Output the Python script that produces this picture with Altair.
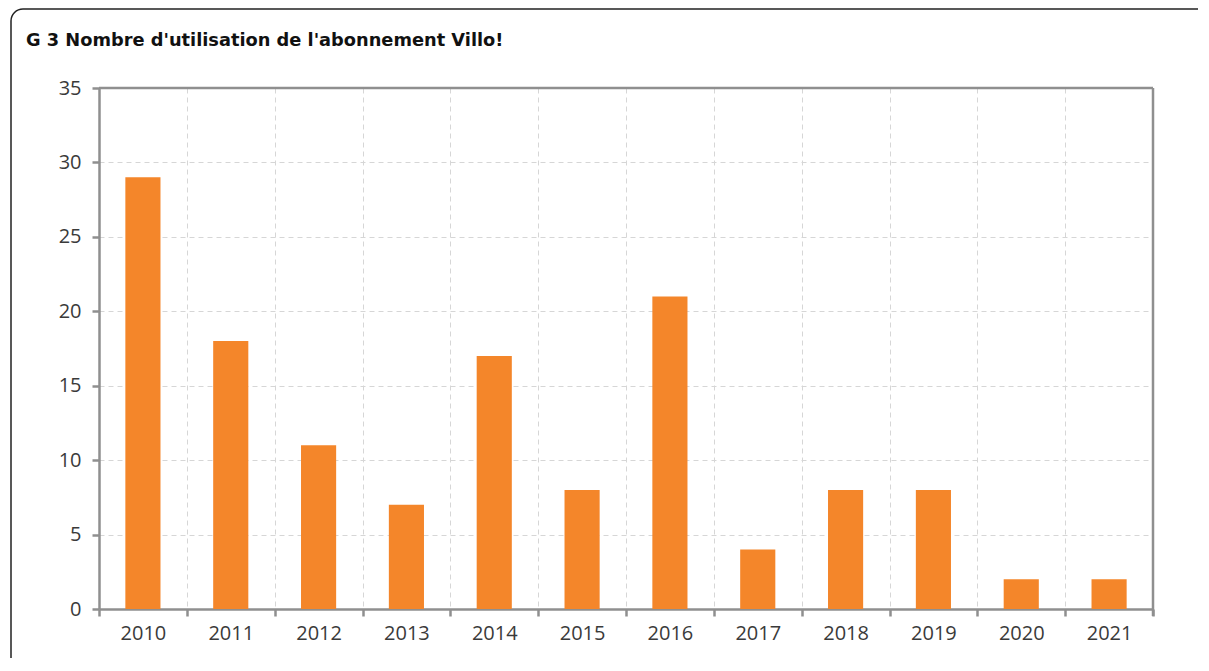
import altair as alt
import pandas as pd

years = ["2010", "2011", "2012", "2013", "2014", "2015",
         "2016", "2017", "2018", "2019", "2020", "2021"]
values = [29, 18, 11, 7, 17, 8, 21, 4, 8, 8, 2, 2]
y_ticks = [0, 5, 10, 15, 20, 25, 30, 35]
title_text = "G 3 Nombre d'utilisation de l'abonnement Villo!"

df = pd.DataFrame({"year": years, "value": values})

W, H = 1054, 521
AXIS_GRAY = "#8f8f8f"
GRID_GRAY = "#d6d6d6"
LABEL_COLOR = "#3a3a3a"
LABEL_FONT = "Open Sans"

bars = alt.Chart(df).mark_bar(
    color="#F4862A", width=alt.RelativeBandSize(0.4)
).encode(
    x=alt.X(
        "year:N", sort=years, title=None,
        scale=alt.Scale(paddingInner=0, paddingOuter=0),
        axis=alt.Axis(
            labelAngle=0, tickBand="extent", grid=True,
            gridDash=[5, 4], gridColor=GRID_GRAY, gridWidth=1,
            domainColor=AXIS_GRAY, domainWidth=2.5,
            tickColor=AXIS_GRAY, tickWidth=2.5, tickSize=7,
            labelPadding=7, labelFont=LABEL_FONT, labelFontSize=20,
            labelColor=LABEL_COLOR,
        ),
    ),
    y=alt.Y(
        "value:Q", title=None,
        scale=alt.Scale(domain=[0, 35], nice=False),
        axis=alt.Axis(
            values=y_ticks, grid=True,
            gridDash=[5, 4], gridColor=GRID_GRAY, gridWidth=1,
            domainColor=AXIS_GRAY, domainWidth=2.5,
            tickColor=AXIS_GRAY, tickWidth=2.5, tickSize=7,
            labelPadding=11, labelFont=LABEL_FONT, labelFontSize=20,
            labelColor=LABEL_COLOR,
        ),
    ),
)

# solid top and right borders of the plot area, drawn over the grid
top_border = alt.Chart(alt.Data(values=[{}])).mark_rule(
    color=AXIS_GRAY, strokeWidth=2.5
).encode(x=alt.value(0), x2=alt.value(W), y=alt.value(0))

right_border = alt.Chart(alt.Data(values=[{}])).mark_rule(
    color=AXIS_GRAY, strokeWidth=2.5
).encode(x=alt.value(W), y=alt.value(0), y2=alt.value(H + 7))

frame = alt.Chart(alt.Data(values=[{}])).mark_rect(
    filled=False, stroke="#222222", strokeWidth=1.5, cornerRadiusTopLeft=12
).encode(
    x=alt.value(-88), x2=alt.value(1300), y=alt.value(-79), y2=alt.value(700)
)

title = alt.Chart(alt.Data(values=[{}])).mark_text(
    text=title_text, align="left", baseline="middle",
    font="DejaVu Sans", fontWeight="bold", fontSize=17.8, color="#111111"
).encode(x=alt.value(-73), y=alt.value(-47))

chart = alt.layer(frame, bars, top_border, right_border, title).properties(
    width=W, height=H,
    padding={"left": 91, "top": 80, "right": 45, "bottom": 49},
    autosize=alt.AutoSizeParams(type="none"),
).configure_view(stroke=None)

chart.save("out.html", embed_options={"renderer": "svg", "actions": False})
